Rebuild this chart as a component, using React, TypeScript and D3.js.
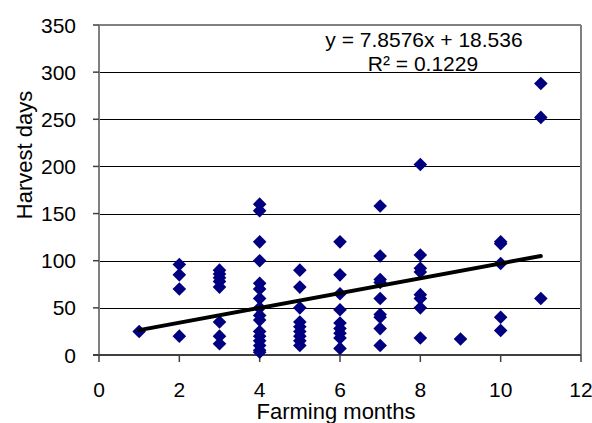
import React from "react";
import * as d3 from "d3";

const farmingMonths = [
  1,
  2, 2, 2, 2,
  3, 3, 3, 3, 3, 3, 3, 3,
  4, 4, 4, 4, 4, 4, 4, 4, 4, 4, 4, 4, 4, 4, 4, 4,
  5, 5, 5, 5, 5, 5, 5, 5, 5,
  6, 6, 6, 6, 6, 6, 6, 6, 6,
  7, 7, 7, 7, 7, 7, 7, 7, 7,
  8, 8, 8, 8, 8, 8, 8, 8,
  9,
  10, 10, 10, 10, 10,
  11, 11, 11,
];
const harvestDays = [
  25,
  96, 85, 70, 20,
  90, 86, 82, 78, 72, 35, 20, 12,
  160, 153, 120, 100, 76, 70, 60, 50, 42, 37, 25, 20, 15, 10, 5, 3,
  90, 72, 50, 35, 30, 25, 20, 15, 10,
  120, 85, 65, 48, 34, 28, 23, 18, 7,
  158, 105, 80, 77, 60, 43, 40, 28, 10,
  202, 106, 92, 88, 64, 60, 50, 18,
  17,
  120, 118, 97, 40, 26,
  288, 252, 60,
];
const xTicks = [0, 2, 4, 6, 8, 10, 12];
const yTicks = [0, 50, 100, 150, 200, 250, 300, 350];
const slope = 7.8576;
const intercept = 18.536;
const equationText = "y = 7.8576x + 18.536";
const rSquaredText = "R² = 0.1229";
const xTitle = "Farming months";
const yTitle = "Harvest days";

export default function App() {
  const W = 592;
  const H = 423;
  const left = 99, right = 581, top = 25, bottom = 355;
  const x = d3.scaleLinear().domain([0, 12]).range([left, right]);
  const y = d3.scaleLinear().domain([0, 350]).range([bottom, top]);
  const font = "Arial, 'Liberation Sans', Helvetica, sans-serif";
  const points = farmingMonths.map((m, i) => ({ m, d: harvestDays[i] }));
  const lineGen = d3.line<number>().x((v) => x(v)).y((v) => y(slope * v + intercept));
  const r = 6.8;
  const diamond = (cx: number, cy: number) =>
    `M${cx},${cy - r}L${cx + r},${cy}L${cx},${cy + r}L${cx - r},${cy}Z`;

  return (
    <svg
      width={W}
      height={H}
      style={{ position: "absolute", left: 0, top: 0, background: "#fff" }}
      fontFamily={font}
    >
      <rect x={0} y={0} width={W} height={H} fill="#fff" />
      {yTicks.slice(1, -1).map((t) => (
        <line key={"g" + t} x1={left} x2={right} y1={Math.round(y(t)) + 0.5} y2={Math.round(y(t)) + 0.5} stroke="#000" strokeWidth={1} />
      ))}
      <line x1={left} x2={right} y1={top} y2={top} stroke="#808080" strokeWidth={2} />
      <line x1={right} x2={right} y1={top} y2={bottom} stroke="#808080" strokeWidth={2} />
      <line x1={left} x2={left} y1={top} y2={bottom} stroke="#808080" strokeWidth={2} />
      <line x1={left - 6} x2={right} y1={bottom} y2={bottom} stroke="#404040" strokeWidth={2} />
      {yTicks.map((t) => (
        <line key={"yt" + t} x1={left - 6} x2={left} y1={y(t)} y2={y(t)} stroke="#404040" strokeWidth={1.5} />
      ))}
      {xTicks.map((t) => (
        <line key={"xt" + t} x1={x(t)} x2={x(t)} y1={bottom} y2={bottom + 7} stroke="#404040" strokeWidth={1.5} />
      ))}
      {yTicks.map((t) => (
        <text key={"yl" + t} x={76} y={y(t)} dy="0.36em" textAnchor="end" fontSize={21} fill="#000">
          {t}
        </text>
      ))}
      {xTicks.map((t) => (
        <text key={"xl" + t} x={x(t)} y={397} textAnchor="middle" fontSize={21} fill="#000">
          {t}
        </text>
      ))}
      <text x={336} y={419} textAnchor="middle" fontSize={22} fill="#000">
        {xTitle}
      </text>
      <text transform={`translate(31.5,155) rotate(-90)`} textAnchor="middle" fontSize={22} fill="#000">
        {yTitle}
      </text>
      {points.map((p, i) => (
        <path key={"p" + i} d={diamond(x(p.m), y(p.d))} fill="#000080" />
      ))}
      <path d={lineGen([1, 11]) || ""} stroke="#000" strokeWidth={4} fill="none" strokeLinecap="round" />
      <text x={424} y={47} textAnchor="middle" fontSize={21} fill="#000">
        {equationText}
      </text>
      <text x={423} y={71} textAnchor="middle" fontSize={21} fill="#000">
        {rSquaredText}
      </text>
    </svg>
  );
}
